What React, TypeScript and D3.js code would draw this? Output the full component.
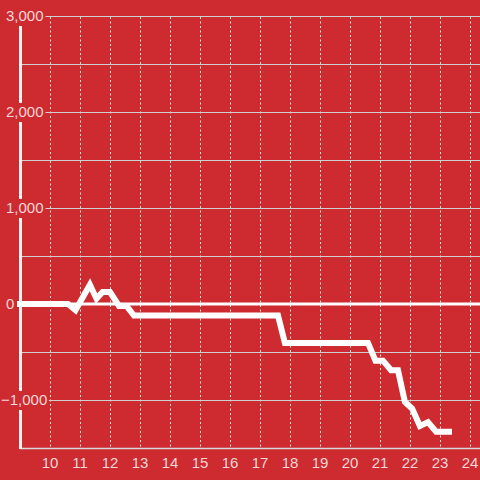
import React from "react";
import * as d3 from "d3";

const seriesX = [8.9, 10.6, 10.85, 11.33, 11.55, 11.75, 12.0, 12.3, 12.55, 12.8, 17.6, 17.83, 20.6, 20.85, 21.1, 21.37, 21.6, 21.83, 22.07, 22.33, 22.6, 22.87, 23.4];
const seriesY = [0, 0, -65, 200, 55, 125, 125, -20, -20, -120, -120, -405, -405, -590, -590, -690, -690, -1020, -1090, -1270, -1230, -1330, -1330];
const yTicks = [3000, 2000, 1000, 0, -1000];
const yGrid = [3000, 2500, 2000, 1500, 1000, 500, -500, -1000];
const xTicks = [10, 11, 12, 13, 14, 15, 16, 17, 18, 19, 20, 21, 22, 23, 24];

const W = 480;
const H = 480;
const BG = "#cd2b30";
const LABEL = "#f3d6d7";
const FS = 15;

export default function App() {
  const x = d3.scaleLinear().domain([9, 24]).range([20, 470]);
  const y = d3.scaleLinear().domain([3000, -1500]).range([16, 448]);
  const fmt = d3.format(",");
  const data = seriesX.map((v, i) => [v, seriesY[i]] as [number, number]);
  const line = d3
    .line<[number, number]>()
    .x((d) => x(d[0]))
    .y((d) => y(d[1]));

  const textWidth = (s: string) =>
    s.split("").reduce((a, c) => a + (c === "," ? 0.278 : c === "-" ? 0.333 : 0.556) * FS, 0);

  return (
    <svg
      width={W}
      height={H}
      style={{ position: "absolute", left: 0, top: 0, display: "block" }}
      fontFamily="'Liberation Sans', Arial, sans-serif"
    >
      <rect x={0} y={0} width={W} height={H} fill={BG} />
      {/* vertical dotted grid */}
      {xTicks.map((t) => (
        <line
          key={"vx" + t}
          x1={Math.round(x(t)) + 0.5}
          x2={Math.round(x(t)) + 0.5}
          y1={y(3000) + 1}
          y2={y(-1500)}
          stroke="#e6e6e6"
          strokeWidth={1}
          strokeDasharray="2,2.5"
        />
      ))}
      {/* horizontal grid */}
      {yGrid.map((t) => (
        <line
          key={"hy" + t}
          x1={22}
          x2={W}
          y1={Math.round(y(t)) + 0.5}
          y2={Math.round(y(t)) + 0.5}
          stroke="#cfcfcf"
          strokeWidth={1}
        />
      ))}
      {/* bottom axis */}
      <line x1={20} x2={W} y1={y(-1500) + 0.5} y2={y(-1500) + 0.5} stroke="#d8d8d8" strokeWidth={1.5} />
      {/* left axis */}
      <line x1={20.5} x2={20.5} y1={y(3000)} y2={y(-1500) + 1} stroke="#f2f2f2" strokeWidth={3} />
      {/* zero line */}
      <line x1={20} x2={W} y1={y(0)} y2={y(0)} stroke="#ffffff" strokeWidth={3} />
      {/* y labels */}
      {yTicks.map((t) => {
        const s = fmt(t);
        const tx = 6 - (t < 0 ? 0.333 * FS : 0);
        const w = textWidth(s);
        return (
          <g key={"yl" + t}>
            <rect x={tx - 1} y={y(t) - 9} width={w + 3} height={19} fill={BG} />
            <text x={tx} y={y(t)} dy="0.35em" fontSize={FS} fill={LABEL}>
              {s}
            </text>
          </g>
        );
      })}
      {/* x labels */}
      {xTicks.map((t) => (
        <text key={"xl" + t} x={x(t)} y={468} textAnchor="middle" fontSize={FS} fill={LABEL}>
          {t}
        </text>
      ))}
      {/* series */}
      <path d={line(data) || ""} fill="none" stroke="#ffffff" strokeWidth={6} strokeLinejoin="miter" />
    </svg>
  );
}
